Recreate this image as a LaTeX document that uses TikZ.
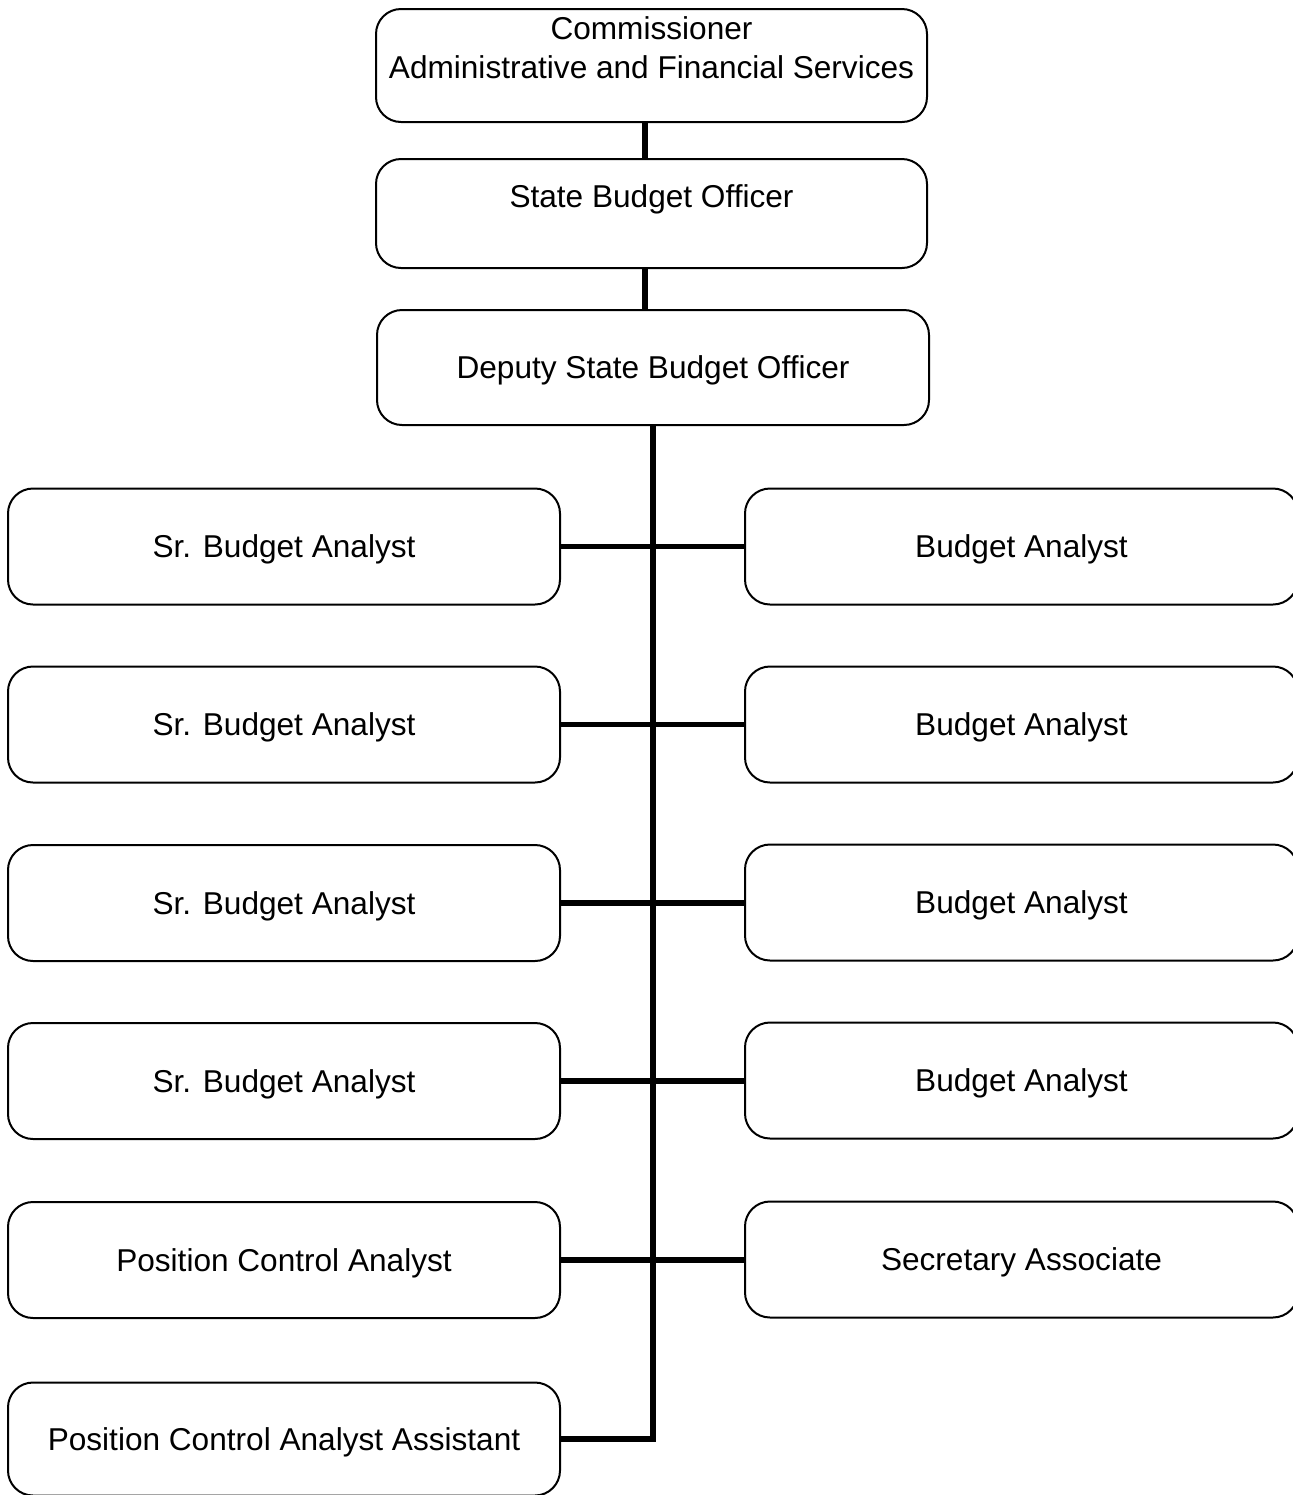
\documentclass[tikz,border=0pt]{standalone}
\usepackage{fontspec}
\setmainfont{Liberation Sans}
\begin{document}
\begin{tikzpicture}[x=0.5pt,y=-0.5pt,
  box/.style={draw, line width=1pt, rounded corners=12.5pt, inner sep=0pt,
    text height=11.5pt, text depth=0.5pt, align=center},
  lbox/.style={box, minimum width=276pt, minimum height=58pt},
  rbox/.style={box, minimum width=276.5pt, minimum height=58pt},
  txt/.style={inner sep=0pt, align=center, anchor=base},
  conn/.style={line width=2.8pt}]
\useasboundingbox (0,0) rectangle (1293,1495);
\clip (0,0) rectangle (1293,1495);
\fontsize{15.8pt}{19.5pt}\selectfont
% top boxes
\node[box, minimum width=275.5pt, minimum height=56.5pt] (comm) at (651.5,65.5) {};
\node[txt] (commt) at (651.5,78) {Commissioner\\Administrative and Financial Services};
\node[box, minimum width=275.5pt, minimum height=54.5pt] (sbo) at (651.5,213.5) {};
\node[txt] (sbot) at (651.5,207) {State Budget Officer};
\node[box, minimum width=276pt, minimum height=57.5pt] (dep) at (653,367.5) {Deputy State Budget Officer};
% left column
\node[lbox] (l1) at (284,546.5) {Sr. Budget Analyst};
\node[lbox] (l2) at (284,724.5) {Sr. Budget Analyst};
\node[lbox] (l3) at (284,903) {Sr. Budget Analyst};
\node[lbox] (l4) at (284,1081) {Sr. Budget Analyst};
\node[lbox] (l5) at (284,1260) {Position Control Analyst};
\node[lbox, minimum height=56.5pt] (l6) at (284,1439) {Position Control Analyst Assistant};
% right column
\node[rbox] (r1) at (1021.5,546.5) {Budget Analyst};
\node[rbox] (r2) at (1021.5,724.5) {Budget Analyst};
\node[rbox] (r3) at (1021.5,902.5) {Budget Analyst};
\node[rbox] (r4) at (1021.5,1080.5) {Budget Analyst};
\node[rbox] (r5) at (1021.5,1259.5) {Secretary Associate};
% connectors
\coordinate (topx) at (645,0);
\coordinate (trunk) at (653,0);
\draw[conn] (comm.south -| topx) -- (sbo.north -| topx);
\draw[conn] (sbo.south -| topx) -- (dep.north -| topx);
\draw[conn] (dep.south -| trunk) |- (l6.east);
\foreach \i in {1,...,5}{
  \draw[conn] (l\i.east) -- (l\i.east -| r\i.west);
}
\end{tikzpicture}
\end{document}
